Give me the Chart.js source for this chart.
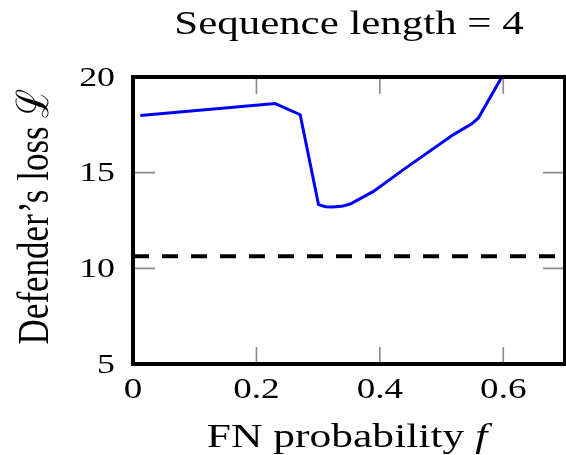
<!DOCTYPE html>
<html>
<head>
<meta charset="utf-8">
<script src="https://cdn.jsdelivr.net/npm/chart.js@4.4.1/dist/chart.umd.min.js"></script>
<style>
  html, body { margin: 0; padding: 0; background: #ffffff; overflow: hidden; }
  #wrap { width: 568px; height: 455px; }
</style>
</head>
<body>
<div id="wrap"><canvas id="chart" width="568" height="455"></canvas></div>
<script>
// Defender's loss as a function of the false-negative probability f
const fnProb = [0.0118, 0.2304, 0.2709, 0.3006, 0.312, 0.3223, 0.338, 0.3519, 0.3896, 0.4382, 0.5192, 0.549, 0.5597, 0.5976];
const defenderLoss = [17.99, 18.61, 18.03, 13.33, 13.22, 13.20, 13.24, 13.36, 14.02, 15.16, 16.99, 17.55, 17.86, 20.0];

// Reference level drawn as the dashed horizontal line
const baselineX = [0, 0.7];
const baselineLoss = [10.63, 10.63];

// Axis ticks and texts
const xTicks = [0, 0.2, 0.4, 0.6];
const yTicks = [5, 10, 15, 20];
const xTickLabels = ['0', '0.2', '0.4', '0.6'];
const yTickLabels = ['5', '10', '15', '20'];
const chartTitle = 'Sequence length = 4';
const xTitleMain = 'FN probability ';
const xTitleVar = 'f';
const yTitle = 'Defender\u2019s loss \u2112';

const SERIF = '"Liberation Serif", "DejaVu Serif", serif';
const WIDE = 1.28; // horizontal widening of all lettering

function drawWide(ctx, text, x, y, size, align, italic) {
  ctx.save();
  ctx.translate(x, y);
  ctx.scale(WIDE, 1);
  ctx.font = (italic ? 'italic ' : '') + size + 'px ' + SERIF;
  ctx.textAlign = align;
  ctx.textBaseline = 'alphabetic';
  ctx.fillStyle = '#000000';
  ctx.fillText(text, 0, 0);
  ctx.restore();
}

const framePlugin = {
  id: 'frameAndText',
  afterDatasetsDraw(chart) {
    const ctx = chart.ctx;
    const area = chart.chartArea;
    const xs = chart.scales.x;
    const ys = chart.scales.y;

    // inward tick marks on all four sides
    ctx.save();
    ctx.strokeStyle = '#8a8a8a';
    ctx.lineWidth = 1.6;
    xs.ticks.forEach(t => {
      const px = xs.getPixelForValue(t.value);
      ctx.beginPath();
      ctx.moveTo(px, area.bottom); ctx.lineTo(px, area.bottom - 17);
      ctx.moveTo(px, area.top); ctx.lineTo(px, area.top + 17);
      ctx.stroke();
    });
    ys.ticks.forEach(t => {
      const py = ys.getPixelForValue(t.value);
      ctx.beginPath();
      ctx.moveTo(area.left, py); ctx.lineTo(area.left + 22, py);
      ctx.moveTo(area.right, py); ctx.lineTo(area.right - 22, py);
      ctx.stroke();
    });
    ctx.restore();

    // axis frame
    ctx.save();
    ctx.strokeStyle = '#000000';
    ctx.lineWidth = 4;
    ctx.strokeRect(area.left, area.top, area.right - area.left, area.bottom - area.top);
    ctx.restore();

    // tick labels
    xs.ticks.forEach((t, i) => {
      drawWide(ctx, xTickLabels[i], xs.getPixelForValue(t.value), area.bottom + 34, 29, 'center');
    });
    ys.ticks.forEach((t, i) => {
      ctx.save();
      ctx.translate(115, ys.getPixelForValue(t.value) + 8.5);
      ctx.scale(WIDE, 1);
      ctx.font = '28px ' + SERIF;
      ctx.textAlign = 'right';
      ctx.fillStyle = '#000000';
      ctx.fillText(yTickLabels[i], 0, 0);
      ctx.restore();
    });

    // title
    const cx = (area.left + area.right) / 2;
    drawWide(ctx, chartTitle, cx, 34, 33.5, 'center');

    // x axis title with italic variable
    ctx.save();
    ctx.font = '34px ' + SERIF;
    const wMain = ctx.measureText(xTitleMain).width;
    ctx.font = 'italic 34px ' + SERIF;
    const wVar = ctx.measureText(xTitleVar).width;
    ctx.restore();
    const totalW = (wMain + wVar) * WIDE;
    const x0 = cx - 2 - totalW / 2;
    drawWide(ctx, xTitleMain, x0, 447, 34, 'left');
    drawWide(ctx, xTitleVar, x0 + wMain * WIDE, 447, 34, 'left', true);

    // y axis title, rotated
    ctx.save();
    ctx.translate(48, (area.top + area.bottom) / 2 - 4);
    ctx.rotate(-Math.PI / 2);
    ctx.scale(1, WIDE);
    ctx.font = '35px ' + SERIF;
    ctx.textAlign = 'center';
    ctx.textBaseline = 'alphabetic';
    ctx.fillStyle = '#000000';
    ctx.fillText(yTitle, 0, 0);
    ctx.restore();
  }
};

new Chart(document.getElementById('chart'), {
  type: 'scatter',
  data: {
    datasets: [
      {
        label: 'loss',
        data: fnProb.map((f, i) => ({ x: f, y: defenderLoss[i] })),
        showLine: true,
        borderColor: '#0000ff',
        borderWidth: 3,
        pointRadius: 0,
        tension: 0,
        fill: false
      },
      {
        label: 'baseline',
        data: baselineX.map((f, i) => ({ x: f, y: baselineLoss[i] })),
        showLine: true,
        borderColor: '#000000',
        borderWidth: 4,
        borderDash: [16, 13],
        pointRadius: 0,
        fill: false
      }
    ]
  },
  options: {
    responsive: false,
    animation: false,
    devicePixelRatio: 1,
    layout: { padding: { left: 133, top: 77, right: 3, bottom: 91 } },
    plugins: { legend: { display: false }, tooltip: { enabled: false }, title: { display: false } },
    scales: {
      x: {
        type: 'linear',
        min: 0, max: 0.7,
        afterBuildTicks: s => { s.ticks = xTicks.map(v => ({ value: v })); },
        afterFit: s => { s.height = 0; },
        grid: { display: false },
        border: { display: false },
        ticks: { display: false }
      },
      y: {
        type: 'linear',
        min: 5, max: 20,
        afterBuildTicks: s => { s.ticks = yTicks.map(v => ({ value: v })); },
        afterFit: s => { s.width = 0; },
        grid: { display: false },
        border: { display: false },
        ticks: { display: false }
      }
    }
  },
  plugins: [framePlugin]
});
</script>
</body>
</html>
